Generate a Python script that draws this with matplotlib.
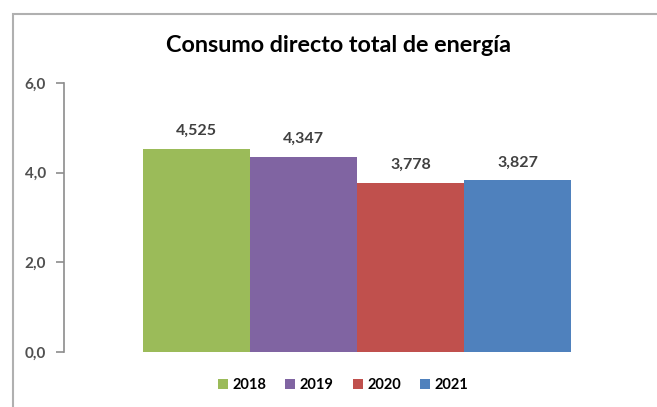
import matplotlib
matplotlib.use("Agg")
import matplotlib.pyplot as plt
from matplotlib.patches import Rectangle, Patch

YEARS = ["2018", "2019", "2020", "2021"]
VALUES = [4.525, 4.347, 3.778, 3.827]
LABELS = ["4,525", "4,347", "3,778", "3,827"]
COLORS = ["#9BBB59", "#8064A2", "#C0504D", "#4F81BD"]
YTICKS = [0, 2, 4, 6]
YTICK_LABELS = ["0,0", "2,0", "4,0", "6,0"]

plt.rcParams["font.family"] = ["Lato", "DejaVu Sans"]

W, H = 657, 407
fig = plt.figure(figsize=(W / 100, H / 100), dpi=100)

# outer chart frame (runs off the right/bottom edge like the crop)
fig.patches.append(Rectangle((12.5 / W, -0.2), 1.2, 1.2 - 14 / H, transform=fig.transFigure,
                             fill=False, edgecolor="#b0b0b0", linewidth=1.5,
                             clip_on=False))

ax = fig.add_axes([64 / W, 1 - 352 / H, (640 - 64) / W, (352 - 83) / H])
pos = list(range(len(YEARS)))
bars = ax.bar(pos, VALUES, width=1.0, color=COLORS, edgecolor="none")
for b, lab in zip(bars, LABELS):
    ax.annotate(lab, (b.get_x() + b.get_width() / 2, b.get_height()),
                xytext=(0, 8), textcoords="offset points", ha="center",
                va="bottom", fontsize=11.5, fontweight="bold", color="#404040")

ax.set_xlim(-0.5 - 79 / 107, -0.5 + (576 - 79) / 107)
ax.set_ylim(0, 6)
ax.set_yticks(YTICKS)
ax.set_yticklabels(YTICK_LABELS, fontsize=11, fontweight="bold", color="#505050")
ax.set_xticks([])
for s in ["top", "right", "bottom"]:
    ax.spines[s].set_visible(False)
ax.spines["left"].set_color("#8c8c8c")
ax.spines["left"].set_linewidth(1.2)
ax.tick_params(axis="y", direction="out", length=6, width=1.2, color="#8c8c8c", pad=7)

fig.text(338 / W, 1 - 45 / H, "Consumo directo total de energía", ha="center",
         va="center", fontsize=16.8, fontweight="bold", color="#000000")

handles = [Patch(facecolor=c, edgecolor="none") for c in COLORS]
fig.legend(handles, YEARS, loc="center", bbox_to_anchor=(343 / W, 1 - 385 / H),
           ncol=4, frameon=False, handlelength=0.7, handleheight=0.7,
           handletextpad=0.3, columnspacing=1.3, prop={"weight": "bold", "size": 10.5})

fig.savefig("out.png", dpi=100)
